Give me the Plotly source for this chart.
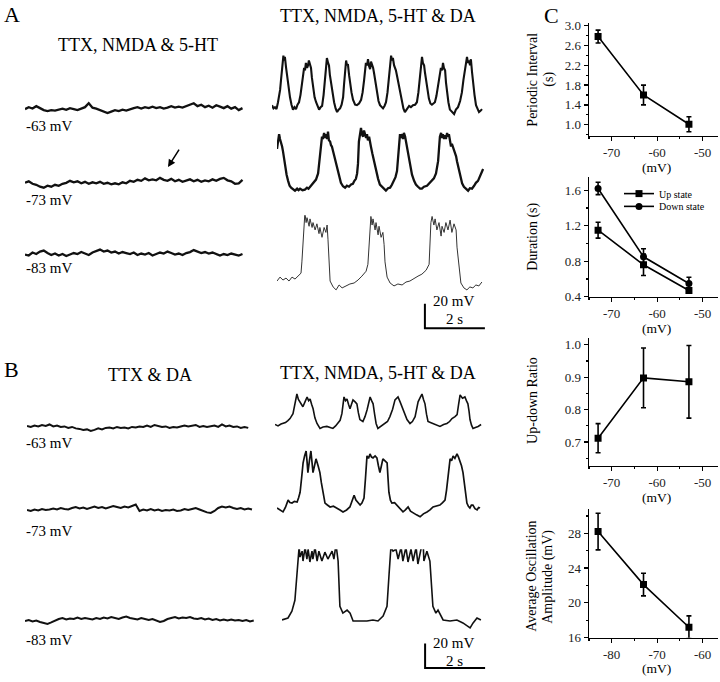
import numpy as np
import plotly.graph_objects as go

W, H = 720, 682
FONT = "Liberation Serif"
PX_PER_S = 30.0     # trace time scale (2 s scale bar = 60 px)
PX_PER_MV = 1.25    # trace voltage scale (20 mV scale bar = 25 px)
DT = 0.125          # sampling interval of the flat traces (s)

# ---------------- Panel C data ----------------
MV_C = [-73, -63, -53]
MV_AMP = [-83, -73, -63]
PERIOD = [2.78, 1.60, 1.01]
PERIOD_ERR = [0.13, 0.20, 0.15]
UP_DUR = [1.15, 0.76, 0.47]
UP_DUR_ERR = [0.09, 0.12, 0.03]
DOWN_DUR = [1.62, 0.85, 0.55]
DOWN_DUR_ERR = [0.07, 0.09, 0.07]
RATIO = [0.712, 0.898, 0.886]
RATIO_ERR = [0.045, 0.092, 0.112]
AMP = [28.2, 22.1, 17.2]
AMP_ERR = [2.1, 1.3, 1.3]

# ---------------- Trace data (mV relative to each trace's baseline) ----------------
A1L = [0, 1.5, 0.5, 2.4, 0.8, -0.8, -1.6, -0.8, -1.2, -0.4, 0.4, -0.6, 0.8, 0, -0.8, 0.4,
       1.6, 4.8, 1.2, 0.4, -0.8, -1.6, -3.2, -2.0, -0.8, -1.6, -0.4, -1.2, 0, 0.8, 1.6, 0.4,
       1.6, 0.8, 2.0, 0.8, 1.6, 0.4, 1.2, 2.4, 1.2, 2.0, 1.2, 2.4, 3.2, 4.8, 2.4, 3.6, 1.6,
       2.8, 1.2, 3.2, 2.0, 0.8, 2.4, 0.4, 1.6, -0.8, 0.8]
A2L = [0, 1.2, -0.8, -1.6, -3.2, -4.0, -2.4, -3.2, -1.6, -2.4, -0.8, 0, 1.6, 0.4, 1.2, -0.4,
       0.8, -0.8, 0.4, -0.4, 0.8, -0.8, 0, -1.2, -0.4, -1.2, 0.4, -0.4, 1.6, 0.8, 2.4, 1.6,
       3.6, 2.0, 2.8, 2.0, 4.0, 2.4, 1.6, 3.2, 1.2, 2.4, 0.8, 1.6, 2.8, 1.2, 2.4, 0.8, 2.0,
       1.2, 2.8, 1.6, 3.2, 4.0, 2.0, 1.2, -0.8, -0.4, 2.4]
A3L = [0, -0.8, 1.6, 0.4, 2.4, 3.2, 1.2, -0.4, 0.8, -0.8, 0.4, -1.2, 0, 1.2, 0.4, 2.0, 0.8,
       -0.4, 1.6, 2.8, 4.0, 2.4, 3.2, 1.6, 2.4, 0.8, 2.0, 1.2, 0.4, 1.6, -0.4, 0.8, 0, 1.2,
       -0.8, 0.4, 1.6, 0.8, 2.4, 1.2, 0, 0.8, -0.4, 1.2, 2.0, 3.6, 2.4, 1.2, 2.0, 0.8, 1.6,
       0.4, -0.8, 0.4, -0.4, 0.8, 0, -0.8, 0.4]
B1L = [1.2, 0.4, 1.6, 0.8, 2.0, 1.2, 2.4, 0.8, 1.6, 0.4, 0.8, -0.4, 0.4, -0.8, -1.2, -2.0,
       -1.6, -2.8, -2.0, -0.8, -1.6, -0.4, 0, -0.8, 0.4, -0.4, 0, -0.8, 0.4, 0, 0.8, 0.4,
       1.6, 0.4, 2.0, 1.2, 0.4, 0.8, -0.4, 0.4, 0, 0.8, 1.6, 0.8, 1.2, 2.0, 0.4, 1.2, 0.4,
       0.8, 1.6, 0.4, 2.4, 0.8, 1.6, 0.4, 0.8, -0.4, 0.4, -0.4]
B2L = [0, -0.8, 0.4, -0.4, 0.8, 0, 0.4, 1.2, 0.4, 1.6, 0.8, 0.4, 1.6, 2.4, 1.2, 2.0, 0.8,
       1.6, 2.8, 1.6, 2.4, 1.2, 2.0, 3.2, 2.4, 1.6, 2.8, 2.0, 3.2, 4.4, -0.8, 0.4, -0.4, 0.8,
       -0.4, 0.4, -0.8, 0, -0.4, 0.4, -0.8, -0.4, 0.8, 0, 0.8, 1.6, 0.4, -0.8, -2.0, -2.4,
       -0.8, 1.6, 2.8, 2.0, 2.8, 1.6, 0.8, 1.6, 0.4, 1.2, 0.4]
B3L = [0, 0.8, -0.4, 0.4, -0.8, -1.6, -2.4, -1.2, 0.4, 1.6, 2.4, 1.2, 2.0, 1.6, 2.8, 1.6,
       2.4, 2.0, 1.2, 2.4, 1.6, 2.8, 2.0, 3.2, 2.4, 1.6, 2.8, 3.6, 2.4, 2.0, 1.2, 2.4, 1.6,
       0.8, 1.6, 0.4, -0.8, 0, 1.6, 2.4, 3.2, 2.0, 2.8, 2.4, 3.2, 2.0, 1.6, 2.4, 1.2, 2.0,
       0.8, 1.6, 0.4, 1.2, 0.4, 1.2, 0.4, 0.8, 0, 0.8, -0.4, 0.4]

# oscillating traces: (time s, mV above trough)
A1R = [(0, 5.6), (0.05, 3), (0.1, 4), (0.15, 2.4), (0.2, 8), (0.27, 18), (0.3, 26), (0.35, 36),
       (0.38, 46), (0.4, 42), (0.43, 45), (0.47, 36), (0.5, 30), (0.53, 22), (0.57, 16),
       (0.6, 12), (0.65, 6), (0.7, 2), (0.75, 4), (0.8, 2.4), (0.85, 6), (0.9, 8), (0.95, 14),
       (1.0, 22), (1.03, 30), (1.07, 36), (1.1, 34), (1.13, 40), (1.17, 36), (1.2, 38), (1.23, 42),
       (1.27, 38), (1.3, 36), (1.33, 28), (1.37, 20), (1.42, 12), (1.47, 8), (1.52, 4), (1.57, 2),
       (1.62, 4), (1.67, 5), (1.72, 14), (1.77, 26), (1.8, 36), (1.83, 44), (1.87, 40), (1.9, 38),
       (1.93, 30), (1.97, 24), (2.02, 14), (2.07, 8), (2.12, 3), (2.17, 0), (2.22, 2), (2.27, 3),
       (2.32, 6), (2.37, 12), (2.4, 22), (2.43, 32), (2.47, 42), (2.5, 38), (2.53, 39), (2.57, 30),
       (2.6, 24), (2.65, 16), (2.7, 10), (2.77, 6), (2.83, 5.6), (2.9, 7), (2.97, 10), (3.02, 16),
       (3.07, 26), (3.1, 34), (3.13, 40), (3.17, 38), (3.2, 43), (3.23, 38), (3.27, 35), (3.3, 41),
       (3.33, 39), (3.37, 36), (3.4, 32), (3.45, 24), (3.5, 16), (3.55, 9), (3.6, 5.6), (3.65, 4),
       (3.7, 3), (3.75, 5), (3.8, 8), (3.85, 16), (3.9, 28), (3.93, 38), (3.97, 46), (4.0, 42),
       (4.03, 44), (4.07, 38), (4.13, 34), (4.18, 28), (4.23, 22), (4.28, 14), (4.33, 8),
       (4.38, 3), (4.43, 0), (4.5, 3), (4.57, 5), (4.63, 4), (4.7, 5.6), (4.77, 6), (4.83, 8),
       (4.88, 16), (4.93, 28), (4.97, 38), (5.0, 45), (5.03, 40), (5.07, 38), (5.1, 32),
       (5.13, 26), (5.18, 16), (5.23, 11), (5.28, 7), (5.33, 6), (5.38, 7), (5.43, 8),
       (5.48, 13), (5.53, 20), (5.58, 28), (5.63, 36), (5.67, 34), (5.7, 40), (5.73, 36),
       (5.77, 34), (5.8, 24), (5.83, 16), (5.88, 8), (5.93, 2), (6.0, 0), (6.07, -1.6), (6.13, 2),
       (6.2, 4), (6.27, 9), (6.33, 16), (6.38, 26), (6.43, 36), (6.47, 42), (6.5, 45), (6.53, 40),
       (6.57, 42), (6.6, 38), (6.63, 43), (6.67, 32), (6.7, 24), (6.75, 14), (6.8, 5.6),
       (6.85, 2), (6.9, 0), (6.95, 1), (7.0, 2.4)]
A2R = [(0, 34), (0.03, 40), (0.07, 46), (0.1, 42), (0.13, 40), (0.17, 36), (0.2, 32), (0.23, 26),
       (0.27, 20), (0.32, 13), (0.37, 8), (0.42, 4), (0.47, 2.4), (0.53, 1), (0.6, 0), (0.67, 1.6),
       (0.72, 0.4), (0.77, 1.6), (0.85, 0.4), (0.93, 0.8), (1.0, 2.4), (1.05, 1.6), (1.1, 3.2),
       (1.17, 4.8), (1.23, 6.4), (1.3, 9), (1.37, 14), (1.4, 20), (1.43, 28), (1.47, 38),
       (1.5, 44), (1.53, 42), (1.57, 47), (1.6, 43), (1.63, 46), (1.67, 42), (1.7, 48),
       (1.73, 41), (1.77, 40), (1.8, 37), (1.83, 36), (1.88, 31), (1.93, 26), (1.98, 20),
       (2.03, 14), (2.08, 9), (2.13, 6.4), (2.2, 3.6), (2.27, 2.4), (2.33, 4), (2.4, 3.2),
       (2.47, 5), (2.53, 5.6), (2.58, 8), (2.63, 9.6), (2.67, 14), (2.7, 22), (2.73, 40),
       (2.77, 46), (2.8, 51), (2.83, 46), (2.87, 44), (2.9, 49), (2.93, 46), (2.97, 43),
       (3.0, 46), (3.03, 41), (3.07, 44), (3.1, 38), (3.13, 36), (3.18, 30), (3.23, 24),
       (3.3, 16), (3.37, 9.6), (3.43, 5), (3.5, 3.2), (3.57, 1.6), (3.63, 0), (3.7, 2),
       (3.77, 2.4), (3.83, 4.8), (3.9, 8), (3.95, 11), (4.0, 16), (4.03, 28), (4.07, 42),
       (4.1, 46), (4.13, 43), (4.17, 46), (4.2, 42), (4.23, 47), (4.27, 44), (4.3, 40),
       (4.33, 36), (4.38, 28), (4.43, 20), (4.5, 13), (4.57, 8), (4.63, 5), (4.7, 3.2),
       (4.77, 1.6), (4.83, 1.6), (4.9, 3.2), (5.0, 4), (5.08, 6), (5.17, 8), (5.23, 10),
       (5.3, 14), (5.33, 18), (5.37, 24), (5.4, 34), (5.43, 44), (5.47, 47), (5.5, 43),
       (5.53, 46), (5.57, 42), (5.6, 45), (5.63, 42), (5.67, 47), (5.7, 44), (5.73, 46),
       (5.77, 40), (5.8, 36), (5.83, 38), (5.88, 34), (5.93, 32), (5.97, 28), (6.0, 24),
       (6.05, 18), (6.1, 12), (6.17, 6), (6.23, 3.2), (6.3, 1.2), (6.37, 0), (6.43, 2),
       (6.5, 1.6), (6.57, 4), (6.63, 6.4), (6.7, 8), (6.77, 12), (6.83, 14), (6.87, 17.6)]
A3R = [(0, 6.4), (0.1, 9.6), (0.2, 7.2), (0.3, 8.8), (0.4, 6.4), (0.5, 9.6), (0.6, 8), (0.7, 10.4),
       (0.8, 12.8), (0.83, 22), (0.87, 44), (0.9, 58), (0.93, 62), (0.97, 54), (1.0, 58),
       (1.07, 51), (1.1, 57), (1.17, 50), (1.2, 54), (1.27, 48), (1.33, 53), (1.4, 45), (1.43, 50),
       (1.5, 42), (1.57, 50), (1.63, 46), (1.67, 52), (1.7, 40), (1.73, 20), (1.77, 6.4),
       (1.87, 1.6), (1.97, -0.8), (2.07, 3.2), (2.17, 0.8), (2.3, 2.4), (2.43, 4), (2.57, 4.8),
       (2.7, 7.2), (2.83, 10.4), (2.97, 14.4), (3.03, 20), (3.07, 36), (3.1, 54), (3.13, 59),
       (3.17, 52), (3.2, 57), (3.27, 48), (3.3, 54), (3.37, 44), (3.4, 51), (3.47, 42), (3.53, 46),
       (3.57, 36), (3.6, 22), (3.67, 9.6), (3.77, 4.8), (3.9, 2.4), (4.03, 4), (4.17, 3.2),
       (4.3, 5.6), (4.43, 6.4), (4.57, 8.8), (4.7, 10.4), (4.83, 12), (4.97, 15.2), (5.07, 20),
       (5.1, 36), (5.13, 54), (5.17, 59), (5.23, 52), (5.27, 57), (5.33, 48), (5.4, 54), (5.47, 43),
       (5.5, 51), (5.57, 46), (5.63, 54), (5.7, 48), (5.77, 56), (5.83, 46), (5.9, 53), (5.97, 48),
       (6.0, 34), (6.07, 16), (6.13, 4.8), (6.23, 0.8), (6.33, -0.8), (6.43, 1.6), (6.53, 0.8),
       (6.63, 3.2), (6.73, 2.4), (6.83, 5.6)]
B1R = [(0, 1.6), (0.1, 0.4), (0.2, 2.0), (0.27, 2.4), (0.35, 3.2), (0.43, 4.8), (0.5, 6.4),
       (0.6, 10.4), (0.67, 18), (0.73, 26.4), (0.78, 22), (0.83, 20), (0.88, 17), (0.93, 16),
       (1.0, 20), (1.07, 24), (1.12, 21), (1.17, 22.4), (1.22, 18), (1.27, 14.4), (1.33, 7),
       (1.4, 2.4), (1.5, -1.6), (1.6, -0.4), (1.73, 0), (1.83, -0.8), (1.93, -1.6), (2.02, 0.4),
       (2.1, 2.4), (2.17, 5), (2.23, 10.4), (2.3, 24), (2.35, 21), (2.4, 22.4), (2.45, 18),
       (2.5, 14.4), (2.55, 18), (2.6, 21.6), (2.67, 20), (2.73, 18.4), (2.78, 11), (2.83, 5.6),
       (2.93, 4), (3.0, 8), (3.07, 13.6), (3.12, 20), (3.17, 24), (3.22, 21), (3.27, 18.4),
       (3.32, 10), (3.37, 2.4), (3.43, -1.6), (3.55, 0.4), (3.67, 2.4), (3.75, 4), (3.83, 8),
       (3.92, 14), (4.0, 21.6), (4.1, 24), (4.17, 20), (4.23, 16), (4.32, 10), (4.4, 5.6),
       (4.5, 2.4), (4.58, 4), (4.67, 8), (4.72, 13), (4.77, 20), (4.85, 24), (4.9, 26.4),
       (4.95, 22), (5.0, 18.4), (5.05, 10), (5.1, 4), (5.2, 3), (5.27, 2.4), (5.38, 1.2),
       (5.5, 0), (5.62, 1.6), (5.73, 2.4), (5.82, 4), (5.9, 6.4), (6.0, 8), (6.07, 9.6),
       (6.12, 18), (6.17, 25.6), (6.25, 23), (6.33, 24), (6.38, 21), (6.43, 18.4), (6.47, 12),
       (6.5, 5.6), (6.55, 1), (6.6, -1.6), (6.68, -0.8), (6.77, 0), (6.87, 1.6)]
B2R = [(0, 5.6), (0.1, 4), (0.2, 2.4), (0.28, 6), (0.37, 12), (0.43, 10), (0.5, 9.6), (0.58, 11),
       (0.67, 10.4), (0.72, 14), (0.77, 18.4), (0.82, 30), (0.87, 42.4), (0.92, 48), (0.97, 52),
       (1.0, 44), (1.03, 34.4), (1.08, 44), (1.13, 52), (1.17, 42), (1.2, 34.4), (1.25, 40),
       (1.3, 45.6), (1.37, 40), (1.43, 34.4), (1.48, 26), (1.53, 18.4), (1.6, 9.6), (1.68, 8),
       (1.77, 6.4), (1.88, 7), (2.0, 5.6), (2.1, 4), (2.2, 2.4), (2.32, 4), (2.43, 6.4),
       (2.5, 11), (2.57, 16), (2.63, 12), (2.7, 10.4), (2.77, 8), (2.83, 9.6), (2.9, 13.6),
       (2.95, 30), (3.0, 48), (3.05, 46), (3.1, 49.6), (3.15, 47), (3.2, 46.4), (3.27, 48),
       (3.33, 46.4), (3.38, 40), (3.43, 34.4), (3.48, 40), (3.53, 45.6), (3.6, 44), (3.67, 42.4),
       (3.7, 30), (3.73, 18.4), (3.78, 12), (3.83, 9.6), (3.92, 10), (4.0, 8), (4.1, 5),
       (4.2, 2.4), (4.28, 4), (4.37, 6.4), (4.45, 3), (4.53, 1.6), (4.65, 0), (4.77, -1.6),
       (4.88, 0.8), (5.0, 2.4), (5.1, 4), (5.2, 6.4), (5.32, 7), (5.43, 8), (5.52, 10),
       (5.6, 12), (5.65, 20), (5.7, 32), (5.73, 40), (5.77, 45.6), (5.82, 44), (5.87, 48),
       (5.93, 46), (6.0, 49.6), (6.05, 47), (6.1, 44), (6.15, 40), (6.2, 34.4), (6.27, 20),
       (6.33, 9.6), (6.38, 7), (6.43, 5.6), (6.48, 8), (6.53, 8), (6.6, 5), (6.67, 4),
       (6.72, 6), (6.77, 5.6)]
B3R = [(0, 2.4), (0.2, 4), (0.33, 9.6), (0.43, 18.4), (0.5, 40), (0.57, 61.6), (0.6, 53.6),
       (0.67, 58.4), (0.7, 50.4), (0.77, 61.6), (0.83, 52), (0.87, 60), (0.93, 49.6), (1.0, 58.4),
       (1.03, 52), (1.1, 61.6), (1.17, 50.4), (1.23, 58.4), (1.33, 50.4), (1.43, 57.6), (1.53, 52),
       (1.67, 58.4), (1.73, 52), (1.8, 64), (1.87, 50.4), (1.93, 13.6), (2.03, 8), (2.17, 10.4),
       (2.27, 8), (2.37, 1.6), (2.6, 1.6), (2.83, 1.6), (3.03, 2.4), (3.2, 1.6), (3.37, 5.6),
       (3.5, 13.6), (3.57, 40), (3.63, 61.6), (3.7, 58.4), (3.8, 60), (3.87, 52), (3.97, 61.6),
       (4.03, 50.4), (4.13, 61.6), (4.2, 49.6), (4.3, 60), (4.37, 50.4), (4.47, 61.6), (4.53, 48),
       (4.63, 58.4), (4.7, 68), (4.73, 50.4), (4.83, 58.4), (4.93, 50.4), (5.03, 13.6), (5.13, 8),
       (5.2, 10.4), (5.37, 2.4), (5.6, 1.6), (5.83, 2.4), (6.03, 0), (6.27, -4), (6.37, 0),
       (6.5, 4), (6.63, 2.4)]

SCALE_T = 2.0   # s
SCALE_V = 20.0  # mV

# ---------------- layout helpers ----------------
def fx(px):
    return px / W

def fy(py):
    return 1 - py / H

layout = dict(width=W, height=H, margin=dict(l=0, r=0, t=0, b=0), autosize=False,
              paper_bgcolor="white", plot_bgcolor="rgba(0,0,0,0)",
              font=dict(family=FONT, color="black"), showlegend=True)
fig = go.Figure()

# trace panels: (data, x-left px, baseline px, line width, colour)
TRACE_PANELS = [
    (A1L, 25, 107, 2.3, "#111"), (A2L, 25, 182, 2.3, "#111"), (A3L, 25, 255, 2.3, "#111"),
    (A1R, 272, 110, 2.1, "#111"), (A2R, 277, 190, 2.3, "#111"), (A3R, 277, 290, 1.0, "#333"),
    (B1L, 27, 431, 2.0, "#111"), (B2L, 27, 515, 2.0, "#111"), (B3L, 25, 628, 2.0, "#111"),
    (B1R, 275, 430, 1.6, "#111"), (B2R, 277, 520, 1.7, "#111"), (B3R, 282, 630, 1.6, "#111"),
]
BOX_W, BOX_UP, BOX_DN = 235, 75, 50

for k, (data, x0, base, lw, col) in enumerate(TRACE_PANELS, start=1):
    if isinstance(data[0], tuple):
        t = [p[0] for p in data]
        v = [p[1] for p in data]
    else:
        t = list(np.arange(len(data)) * DT)
        v = data
    xa = "xaxis" if k == 1 else f"xaxis{k}"
    ya = "yaxis" if k == 1 else f"yaxis{k}"
    layout[xa] = dict(domain=[fx(x0), fx(x0 + BOX_W)], range=[0, BOX_W / PX_PER_S],
                      anchor=f"y{k}" if k > 1 else "y", visible=False, fixedrange=True)
    layout[ya] = dict(domain=[fy(base + BOX_DN), fy(base - BOX_UP)],
                      range=[-BOX_DN / PX_PER_MV, BOX_UP / PX_PER_MV],
                      anchor=f"x{k}" if k > 1 else "x", visible=False, fixedrange=True)
    fig.add_trace(go.Scatter(x=t, y=v, mode="lines", line=dict(color=col, width=lw),
                             xaxis=f"x{k}" if k > 1 else "x", yaxis=f"y{k}" if k > 1 else "y",
                             showlegend=False, hoverinfo="skip"))

# scale bars (anchored in the bottom-right trace axes of A and B)
for k, t0, v0 in [(6, 4.93, -32.0), (12, 4.77, -36.8)]:
    fig.add_trace(go.Scatter(x=[t0, t0, t0 + SCALE_T], y=[v0 + SCALE_V, v0, v0], mode="lines",
                             line=dict(color="black", width=2), xaxis=f"x{k}", yaxis=f"y{k}",
                             showlegend=False, hoverinfo="skip"))

# ---------------- Panel C ----------------
C_X0, C_X1 = 589, 718
C_PANELS = [
    # k, top px, bottom px, yrange, tick0, dtick, minor dtick, fmt, xrange, xticks
    (13, 19, 134, [0.78, 3.06], 1.0, 0.4, 0.2, ".1f", [-75, -46.6], [-70, -60, -50]),
    (14, 176, 298, [0.4, 1.75], 0.4, 0.4, 0.2, ".1f", [-75, -46.6], [-70, -60, -50]),
    (15, 340, 470, [0.627, 1.021], 0.7, 0.1, 0.05, ".1f", [-75, -46.6], [-70, -60, -50]),
    (16, 514, 645, [16, 30.8], 16, 4, 2, "d", [-85, -56.6], [-80, -70, -60]),
]
for k, top, bot, yr, t0, dt, mdt, fmt, xr, xt in C_PANELS:
    layout[f"xaxis{k}"] = dict(domain=[fx(C_X0), fx(C_X1)], range=xr, anchor=f"y{k}",
                               showline=True, linecolor="black", linewidth=1.4,
                               ticks="outside", ticklen=4, tickwidth=1.2, tickcolor="black",
                               tickmode="array", tickvals=xt, ticktext=[f"-{abs(v)}" for v in xt],
                               minor=dict(ticks="outside", ticklen=2, tickcolor="black",
                                          tickvals=[v - 5 for v in xt] + [xt[-1] + 5]),
                               showgrid=False, zeroline=False, fixedrange=True,
                               tickfont=dict(size=13, family=FONT, color="#222"))
    layout[f"yaxis{k}"] = dict(domain=[fy(bot), fy(top)], range=yr, anchor=f"x{k}",
                               showline=True, linecolor="black", linewidth=1.4,
                               ticks="outside", ticklen=4, tickwidth=1.2, tickcolor="black",
                               tick0=t0, dtick=dt, tickformat=fmt,
                               minor=dict(ticks="outside", ticklen=2, tickcolor="black",
                                          dtick=mdt, tick0=t0),
                               showgrid=False, zeroline=False, fixedrange=True,
                               tickfont=dict(size=13, family=FONT, color="#222"))

def c_series(k, xs, ys, err, symbol, name=None, legend=None):
    fig.add_trace(go.Scatter(
        x=xs, y=ys, mode="lines+markers", name=name, showlegend=legend is not None,
        legend=legend if legend else "legend",
        line=dict(color="black", width=1.6),
        marker=dict(symbol=symbol, size=7, color="black"),
        error_y=dict(type="data", array=err, color="black", thickness=1.6, width=2.5),
        xaxis=f"x{k}", yaxis=f"y{k}", hoverinfo="skip"))

c_series(13, MV_C, PERIOD, PERIOD_ERR, "square")
c_series(14, MV_C, UP_DUR, UP_DUR_ERR, "square", "Up state", "legend")
c_series(14, MV_C, DOWN_DUR, DOWN_DUR_ERR, "circle", "Down state", "legend2")
c_series(15, MV_C, RATIO, RATIO_ERR, "square")
c_series(16, MV_AMP, AMP, AMP_ERR, "square")

LEG = dict(xanchor="left", yanchor="middle", font=dict(size=10, family=FONT),
           bgcolor="rgba(0,0,0,0)", itemwidth=30, borderwidth=0)
layout["legend"] = dict(x=fx(619), y=fy(193), **LEG)
layout["legend2"] = dict(x=fx(619), y=fy(206), **LEG)

# ---------------- text ----------------
ann = []
def txt(s, xpx, ypx, size, xanchor="center", angle=0, color="black"):
    ann.append(dict(text=s, x=fx(xpx), y=fy(ypx), xref="paper", yref="paper",
                    xanchor=xanchor, yanchor="middle", showarrow=False, textangle=angle,
                    font=dict(size=size, family=FONT, color=color)))

txt("A", 2, 11, 22, "left")
txt("B", 2, 372, 22, "left")
txt("C", 542, 12, 22, "left")
txt("TTX, NMDA &amp; 5-HT", 138, 42, 18)
txt("TTX, NMDA, 5-HT &amp; DA", 378, 12, 18)
txt("TTX &amp; DA", 150, 378, 18)
txt("TTX, NMDA, 5-HT &amp; DA", 378, 376, 18)
for lab, ypx in [("-63 mV", 124), ("-73 mV", 200), ("-83 mV", 269),
                 ("-63 mV", 447), ("-73 mV", 536), ("-83 mV", 647)]:
    txt(lab, 24, ypx, 15, "left")
txt("20 mV", 431, 302, 15, "left")
txt("2 s", 454, 321, 15)
txt("20 mV", 431, 650, 15, "left")
txt("2 s", 454, 669, 15)

txt("Periodic Interval", 533, 77, 14, angle=-90)
txt("(s)", 549, 77, 14, angle=-90)
txt("Duration (s)", 533, 237, 14, angle=-90)
txt("Up-down Ratio", 533, 404, 14, angle=-90)
txt("Average Oscillation", 532, 583, 14, angle=-90)
txt("Amplitude (mV)", 548, 583, 14, angle=-90)
for ypx in [166, 330, 502, 676]:
    txt("(mV)", 656, ypx, 13.5)

# arrow in A, middle-left trace
ann.append(dict(x=fx(168), y=fy(166), xref="paper", yref="paper", ax=12, ay=-19,
                showarrow=True, arrowhead=2, arrowsize=1, arrowwidth=1.5, arrowcolor="black",
                text=""))

layout["annotations"] = ann
fig.update_layout(**layout)
fig.write_html("out.html", config={"displayModeBar": False, "staticPlot": True},
               post_script="document.body.style.margin='0px';")
